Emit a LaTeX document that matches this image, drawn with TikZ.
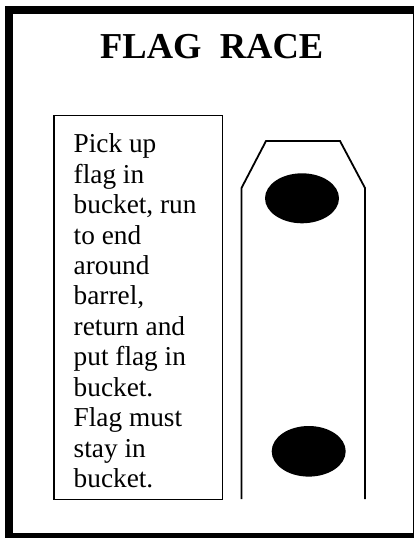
\documentclass[tikz,border=0pt]{standalone}
\usepackage{fontspec}
\setmainfont{Liberation Serif}
\begin{document}
\begin{tikzpicture}[x=1pt,y=-1pt,
  frame/.style={line width=8pt},
  track/.style={line width=1.8pt,line join=miter},
  rulebox/.style={draw,line width=1.3pt,inner sep=0pt,minimum width=168.4pt,minimum height=384pt},
  rulestext/.style={inner sep=0pt,align=left,font=\fontsize{27.3}{30.45}\selectfont},
  titletext/.style={inner sep=0pt,font=\fontsize{36.5}{40}\selectfont\bfseries},
  barrel/.style={fill=black}]
\useasboundingbox (0,0) rectangle (414,538);
\draw[frame] (9,9.5) rectangle (416.5,537);
\node[titletext,anchor=base] (title) at (211.7,58.3) {FLAG\ \ RACE};
\node[rulebox,anchor=north west] (box) at (53.3,115) {};
\node[rulestext,anchor=north west] (txt) at (73.5,133.6) {Pick up\\flag in\\bucket, run\\to end\\around\\barrel,\\return and\\put flag in\\bucket.\\Flag must\\stay in\\bucket.};
\draw[track] (241.5,499) -- (241.5,188) -- (266,141) -- (340,141) -- (365,188) -- (365,499);
\fill[barrel] (302,198.3) ellipse [x radius=37, y radius=25];
\fill[barrel] (308.7,451.3) ellipse [x radius=37, y radius=25.3];
\end{tikzpicture}
\end{document}
